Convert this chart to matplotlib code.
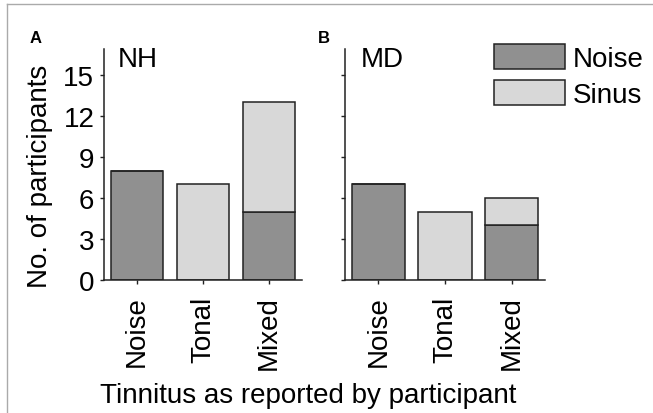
import matplotlib.pyplot as plt
from matplotlib.patches import Patch
from matplotlib.lines import Line2D

categories = ['Noise', 'Tonal', 'Mixed']
yticks = [0, 3, 6, 9, 12, 15]

# stacked counts per panel: dark (noise) at bottom, light (sinus) on top
nh_noise = [8, 0, 5]
nh_sinus = [0, 7, 8]
md_noise = [7, 0, 4]
md_sinus = [0, 5, 2]

DARK = '#909090'
LIGHT = '#d8d8d8'
EDGE = '#222222'

plt.rcParams['font.family'] = ['Liberation Sans', 'DejaVu Sans']
plt.rcParams['font.size'] = 20

fig = plt.figure(figsize=(6.53, 4.14), dpi=100)
W, H = 653, 414


def axes_px(left, right, bottom, top):
    return fig.add_axes([left / W, 1 - bottom / H, (right - left) / W, (bottom - top) / H])


ax1 = axes_px(104, 302, 281, 50)
ax2 = axes_px(345, 545, 281, 50)

for ax, dark, light in [(ax1, nh_noise, nh_sinus), (ax2, md_noise, md_sinus)]:
    x = range(len(categories))
    ax.bar(x, dark, width=0.8, color=DARK, edgecolor=EDGE, linewidth=1.1)
    ax.bar(x, light, width=0.8, bottom=dark, color=LIGHT, edgecolor=EDGE, linewidth=1.1)
    ax.set_xlim(-0.5, 2.5)
    ax.set_ylim(0, 16.9)
    ax.set_yticks(yticks)
    ax.set_xticks(list(x))
    ax.set_xticklabels(categories, rotation=90)
    for s in ['top', 'right']:
        ax.spines[s].set_visible(False)
    for s in ['left', 'bottom']:
        ax.spines[s].set_linewidth(1.1)
        ax.spines[s].set_color(EDGE)
    ax.tick_params(axis='y', length=3, width=1, pad=4, colors=EDGE, labelcolor='black')
    ax.tick_params(axis='x', length=3, width=1, pad=8, colors=EDGE, labelcolor='black')
    ax.patch.set_visible(False)

ax2.set_yticklabels([])

fig.text(40 / W, 1 - 176 / H, 'No. of participants', rotation=90, ha='center', va='center')
fig.text(100 / W, 1 - 403 / H, 'Tinnitus as reported by participant', ha='left', va='baseline')

fig.text(30 / W, 1 - 43 / H, 'A', fontsize=12, weight='bold', va='baseline')
fig.text(318 / W, 1 - 43 / H, 'B', fontsize=12, weight='bold', va='baseline')
fig.text(118 / W, 1 - 67 / H, 'NH', va='baseline')
fig.text(361 / W, 1 - 67 / H, 'MD', va='baseline')

handles = [Patch(facecolor=DARK, edgecolor=EDGE, linewidth=1.1),
           Patch(facecolor=LIGHT, edgecolor=EDGE, linewidth=1.1)]
fig.legend(handles, ['Noise', 'Sinus'], loc='upper left',
           bbox_to_anchor=(494 / W, 1 - 45 / H), frameon=False,
           borderpad=0, borderaxespad=0, handlelength=2.55, handleheight=1.0,
           labelspacing=0.3, handletextpad=0.3)

# partial frame of the source image (top and left edges)
fig.add_artist(Line2D([7 / W, 1], [1 - 5 / H, 1 - 5 / H], color='#aaaaaa', lw=1))
fig.add_artist(Line2D([7 / W, 7 / W], [0, 1 - 5 / H], color='#aaaaaa', lw=1))

fig.savefig('out.png', dpi=100)
